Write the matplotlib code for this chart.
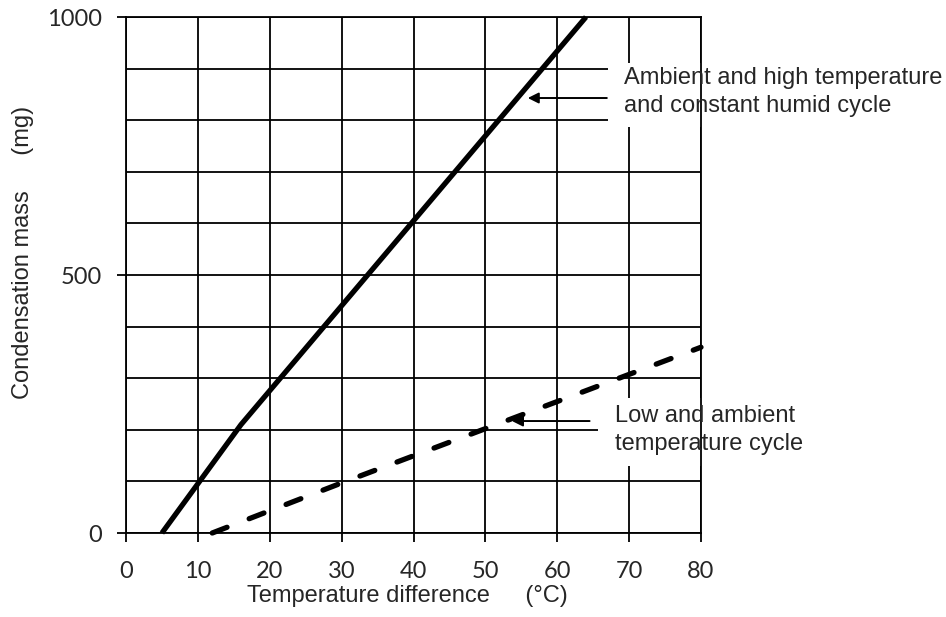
import matplotlib.pyplot as plt
from matplotlib.patches import Rectangle

# data
high_x = [5, 16, 64]
high_y = [0, 210, 1000]
low_x = [12, 30, 80]
low_y = [0, 97, 360]

x_ticks = [0, 10, 20, 30, 40, 50, 60, 70, 80]
y_ticks = [0, 500, 1000]

label_high = 'Ambient and high temperature\nand constant humid cycle'
label_low = 'Low and ambient\ntemperature cycle'

plt.rcParams['font.family'] = ['Liberation Sans', 'DejaVu Sans']

fig = plt.figure(figsize=(9.46, 6.17), dpi=100)
ax = fig.add_axes([126 / 946, 1 - 533 / 617, 575 / 946, 516 / 617])

ax.set_xlim(0, 80)
ax.set_ylim(0, 1000)
ax.set_xticks(x_ticks)
ax.set_yticks(y_ticks)
ax.set_xticks(range(0, 81, 10), minor=True)
ax.set_yticks(range(0, 1001, 100), minor=True)
ax.grid(True, which='both', color='black', lw=1.3)
ax.tick_params(which='major', direction='out', length=6.5, width=1.3,
               labelsize=17, colors='black', labelcolor='#262626')
ax.tick_params(axis='x', pad=14)
ax.tick_params(axis='y', pad=11)
ax.tick_params(which='minor', length=0)
for lab in ax.get_xticklabels() + ax.get_yticklabels():
    lab.set_family(['Lato', 'DejaVu Sans'])
for s in ax.spines.values():
    s.set_linewidth(1.3)

ax.plot(high_x, high_y, color='black', lw=3.8, zorder=3, clip_on=False,
        solid_capstyle='butt')
ax.plot(low_x, low_y, color='black', lw=3.8, zorder=3, clip_on=False,
        dashes=(3.0, 4.5), dash_capstyle='round')

# white boxes behind the notes
ax.add_patch(Rectangle((67.1, 787), 40, 123, facecolor='white',
                       edgecolor='none', zorder=2, clip_on=False))
ax.add_patch(Rectangle((65.7, 130), 40, 132, facecolor='white',
                       edgecolor='none', zorder=2, clip_on=False))

ax.text(69.3, 855, label_high, fontsize=17, color='#262626', va='center',
        ha='left', linespacing=1.38, zorder=4)
ax.text(68.0, 200, label_low, fontsize=17, color='#262626', va='center',
        ha='left', linespacing=1.38, zorder=4)

arrow = dict(arrowstyle='-|>', color='black', lw=1.4, mutation_scale=16,
             shrinkA=0, shrinkB=0)
ax.annotate('', xy=(55.9, 843), xytext=(66.9, 843), arrowprops=arrow, zorder=4)
ax.annotate('', xy=(53.7, 217), xytext=(64.5, 217), arrowprops=arrow, zorder=4)

ax.set_xlabel('Temperature difference\u2003\u2002(°C)', fontsize=17,
              color='#262626')
ax.xaxis.set_label_coords(0.49, -0.1)
ax.set_ylabel('Condensation mass\u2003\u2002(mg)', fontsize=17,
              color='#262626')
ax.yaxis.set_label_coords(-0.16, 0.543)

fig.savefig('out.png', dpi=100)
